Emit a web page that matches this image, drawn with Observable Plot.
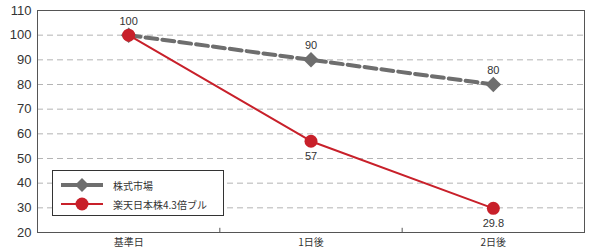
<!DOCTYPE html>
<html><head><meta charset="utf-8">
<script src="https://cdn.jsdelivr.net/npm/d3@7"></script>
<script src="https://cdn.jsdelivr.net/npm/@observablehq/plot@0.6"></script>
<style>
body{margin:0;background:#fff;}
#wrap{position:relative;width:592px;height:252px;}
#legend{position:absolute;left:52px;top:170px;width:172px;height:46px;border:1px solid #333;background:#fff;box-sizing:border-box;font-family:"Noto Sans CJK JP",sans-serif;font-size:10px;color:#333;}
#legend .row{position:absolute;left:8px;height:16px;display:flex;align-items:center;}
#legend svg{margin-right:10px;}
</style></head>
<body><div id="wrap"><div id="chart"></div>
<div id="legend">
<div class="row" style="top:6px"><svg width="42" height="16"><line x1="0" y1="8" x2="42" y2="8" stroke="#6e6e6e" stroke-width="4"/><path d="M21,1 L28,8 L21,15 L14,8 Z" fill="#6e6e6e"/></svg><span id="l0"></span></div>
<div class="row" style="top:25px"><svg width="42" height="16"><line x1="0" y1="8" x2="42" y2="8" stroke="#c8202a" stroke-width="2"/><circle cx="21" cy="8" r="6.5" fill="#c8202a"/></svg><span id="l1"></span></div>
</div></div>
<script>
const categories = ["基準日", "1日後", "2日後"];
const seriesNames = ["株式市場", "楽天日本株4.3倍ブル"];
const marketValues = [100, 90, 80];
const bullValues = [100, 57, 29.8];
const yTicks = [20, 30, 40, 50, 60, 70, 80, 90, 100, 110];

document.getElementById("l0").textContent = seriesNames[0];
document.getElementById("l1").textContent = seriesNames[1];

const market = categories.map((c, i) => ({cat: c, idx: i + 0.5, value: marketValues[i]}));
const bull = categories.map((c, i) => ({cat: c, idx: i + 0.5, value: bullValues[i]}));
const bounds = d3.range(1, categories.length);

const chart = Plot.plot({
  width: 592, height: 252,
  marginLeft: 37, marginRight: 8, marginTop: 10, marginBottom: 20,
  style: {fontFamily: "'Liberation Sans','Noto Sans CJK JP',sans-serif", color: "#333", background: "#fff"},
  x: {type: "linear", domain: [0, categories.length], axis: null},
  y: {domain: [20, 110], axis: null},
  marks: [
    Plot.gridY(yTicks.filter(d => d > 20 && d < 110), {stroke: "#b4b4b4", strokeOpacity: 1, strokeDasharray: "6,4", strokeWidth: 1}),
    Plot.frame({stroke: "#555", strokeWidth: 1}),
    Plot.ruleX(bounds, {y1: 20, y2: 21.7, stroke: "#555"}),
    Plot.axisY(yTicks, {tickSize: 0, tickPadding: 6, fontSize: 13, fill: "#333", label: null}),
    Plot.axisX(categories.map((c, i) => i + 0.5), {tickSize: 0, tickPadding: 6, fontSize: 10, fontFamily: "'Noto Sans CJK JP',sans-serif", tickFormat: d => categories[Math.floor(d)], fill: "#333", label: null}),
    Plot.line(market, {x: "idx", y: "value", stroke: "#6e6e6e", strokeWidth: 4, strokeDasharray: "12,5"}),
    Plot.dot(market, {x: "idx", y: "value", symbol: "diamond2", r: 7, fill: "#6e6e6e"}),
    Plot.line(bull, {x: "idx", y: "value", stroke: "#c8202a", strokeWidth: 2}),
    Plot.dot(bull, {x: "idx", y: "value", r: 6.5, fill: "#c8202a"}),
    Plot.text(market.slice(1), {x: "idx", y: "value", text: d => String(d.value), dy: -14, fontSize: 11, fill: "#333"}),
    Plot.text(bull.slice(0, 1), {x: "idx", y: "value", text: d => String(d.value), dy: -14, fontSize: 11, fill: "#333"}),
    Plot.text(bull.slice(1), {x: "idx", y: "value", text: d => String(d.value), dy: 15, fontSize: 11, fill: "#333"})
  ]
});
document.getElementById("chart").appendChild(chart);
</script></body></html>
